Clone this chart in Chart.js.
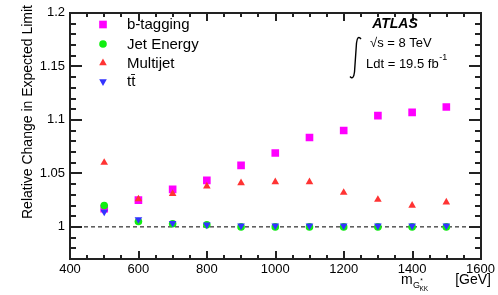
<!DOCTYPE html>
<html><head><meta charset="utf-8">
<script src="https://cdn.jsdelivr.net/npm/chart.js@4"></script>
<style>html,body{margin:0;padding:0;background:#fff}#wrap{width:498px;height:295px;position:relative}</style>
</head><body><div id="wrap"><canvas id="c" width="498" height="295"></canvas></div>
<script>
const masses = [500, 600, 700, 800, 900, 1000, 1100, 1200, 1300, 1400, 1500];
const bTagging = [1.017, 1.025, 1.035, 1.0435, 1.0575, 1.069, 1.0835, 1.090, 1.104, 1.107, 1.112];
const jetEnergy = [1.020, 1.005, 1.003, 1.002, 1.000, 1.000, 1.000, 1.000, 1.000, 1.000, 1.000];
const multijet = [1.060, 1.026, 1.031, 1.038, 1.041, 1.042, 1.042, 1.032, 1.0255, 1.020, 1.023];
const ttbar = [1.014, 1.007, 1.0035, 1.002, 1.001, 1.001, 1.001, 1.001, 1.001, 1.001, 1.001];
const xTicks = [400, 600, 800, 1000, 1200, 1400, 1600];
const yTicks = [1, 1.05, 1.1, 1.15, 1.2];
const seriesNames = ['b-tagging', 'Jet Energy', 'Multijet', 't\u0074\u0304'];
const refLine = [1, 1];
const xRange = [400, 1600];

const FONT = "'Liberation Sans', Arial, Helvetica, sans-serif";
const pts = arr => masses.map((m, i) => ({x: m, y: arr[i]}));

const styles = [
  {color: '#ff00ff', shape: 'rect', r: 5.4, rot: 0},
  {color: '#11ee11', shape: 'circle', r: 3.8, rot: 0},
  {color: '#ff3333', shape: 'triangle', r: 4.4, rot: 0},
  {color: '#3333ff', shape: 'triangle', r: 4.4, rot: 180}
];
const seriesData = [bTagging, jetEnergy, multijet, ttbar];

const datasets = seriesData.map((d, i) => ({
  type: 'scatter',
  label: seriesNames[i],
  data: pts(d),
  pointStyle: styles[i].shape,
  pointRadius: styles[i].r,
  pointRotation: styles[i].rot,
  pointBackgroundColor: styles[i].color,
  pointBorderWidth: 0,
  borderWidth: 0,
  order: 4 - i
}));
datasets.push({
  type: 'line',
  label: 'ref',
  data: xRange.map((x, i) => ({x: x, y: refLine[i]})),
  borderColor: '#000',
  borderWidth: 1,
  borderDash: [4, 3],
  pointRadius: 0,
  order: 10
});

function drawMarker(ctx, shape, x, y, r, rot, color) {
  ctx.save();
  ctx.fillStyle = color;
  ctx.beginPath();
  if (shape === 'rect') {
    const s = Math.SQRT1_2 * r;
    ctx.rect(x - s, y - s, 2 * s, 2 * s);
  } else if (shape === 'circle') {
    ctx.arc(x, y, r, 0, Math.PI * 2);
  } else {
    const sgn = rot ? -1 : 1;
    let a = 0;
    for (let k = 0; k < 3; k++) {
      const px = x + Math.sin(a) * r, py = y - sgn * Math.cos(a) * r;
      if (k === 0) ctx.moveTo(px, py); else ctx.lineTo(px, py);
      a += 2 * Math.PI / 3;
    }
    ctx.closePath();
  }
  ctx.fill();
  ctx.restore();
}

const decor = {
  id: 'decor',
  afterDraw(chart) {
    const ctx = chart.ctx, a = chart.chartArea;
    ctx.save();
    ctx.setLineDash([]);
    const L = Math.round(a.left), R = Math.round(a.right), T = Math.round(a.top), B = Math.round(a.bottom);
    ctx.fillStyle = '#222222';
    // frame
    ctx.fillRect(L - 1, T - 1, R - L + 2, 2);
    ctx.fillRect(L - 1, B - 1, R - L + 2, 2);
    ctx.fillRect(L - 1, T - 1, 2, B - T + 2);
    ctx.fillRect(R - 1, T - 1, 2, B - T + 2);
    // x ticks
    for (let k = 0; k <= 24; k++) {
      const px = Math.round(L + (R - L) * k / 24);
      const len = (k % 4 === 0) ? 8 : 4;
      ctx.fillRect(px - 1, B - len, 2, len);
      ctx.fillRect(px - 1, T, 2, len);
    }
    // y ticks
    for (let k = 0; k <= 23; k++) {
      const py = Math.round(B - (B - T) * k / 23);
      const len = ((k + 2) % 5 === 0) ? 12 : 6;
      ctx.fillRect(L, py - 1, len, 2);
      ctx.fillRect(R - len, py - 1, len, 2);
    }

    // legend
    ctx.fillStyle = '#000';
    ctx.textBaseline = 'middle';
    ctx.textAlign = 'left';
    ctx.font = '15px ' + FONT;
    const rowsY = [24.5, 44, 63, 81.5];
    seriesNames.forEach((n, i) => {
      drawMarker(ctx, styles[i].shape, 103, rowsY[i], styles[i].r, styles[i].rot, styles[i].color);
      ctx.fillStyle = '#000';
      ctx.fillText(n, 127, rowsY[i] + 0.5);
    });

    // ATLAS label
    ctx.font = 'italic bold 14px ' + FONT;
    ctx.textAlign = 'center';
    ctx.fillText('ATLAS', 395, 24);
    ctx.textAlign = 'left';
    ctx.font = '13px ' + FONT;
    ctx.fillText('\u221As = 8 TeV', 370, 43);
    ctx.fillText('Ldt = 19.5 fb', 366, 64);
    const w = ctx.measureText('Ldt = 19.5 fb').width;
    ctx.font = '9px ' + FONT;
    ctx.fillText('-1', 366 + w + 0.5, 58);
    // integral sign
    ctx.beginPath();
    ctx.lineWidth = 1.4;
    ctx.strokeStyle = '#000';
    ctx.moveTo(361, 39);
    ctx.quadraticCurveTo(357.5, 34.5, 356.5, 43);
    ctx.lineTo(354.5, 72);
    ctx.quadraticCurveTo(353.5, 80.5, 350, 76.5);
    ctx.stroke();

    // y title
    ctx.save();
    ctx.translate(32, 5);
    ctx.rotate(-Math.PI / 2);
    ctx.textAlign = 'right';
    ctx.textBaseline = 'alphabetic';
    ctx.font = '14px ' + FONT;
    ctx.fillStyle = '#000';
    ctx.fillText('Relative Change in Expected Limit', 0, 0);
    ctx.restore();

    // x title
    ctx.textBaseline = 'alphabetic';
    ctx.textAlign = 'right';
    ctx.font = '14px ' + FONT;
    ctx.fillText('[GeV]', 491, 284);
    ctx.textAlign = 'left';
    let x0 = 401;
    ctx.fillText('m', x0, 284);
    x0 += ctx.measureText('m').width + 0.3;
    ctx.font = '9px ' + FONT;
    ctx.fillText('G', x0, 287.5);
    const gw = ctx.measureText('G').width;
    ctx.font = '6.5px ' + FONT;
    ctx.fillText('*', x0 + gw + 0.3, 283);
    ctx.fillText('KK', x0 + gw - 0.5, 291);
    ctx.restore();
  }
};

new Chart(document.getElementById('c'), {
  data: {datasets: datasets},
  options: {
    responsive: false,
    animation: false,
    devicePixelRatio: 1,
    layout: {padding: {top: 5, right: 16, left: 0, bottom: 0}},
    plugins: {legend: {display: false}, tooltip: {enabled: false}},
    scales: {
      x: {
        type: 'linear', min: 400, max: 1600,
        afterBuildTicks: s => { s.ticks = xTicks.map(v => ({value: v})); },
        afterFit: s => { s.height = 36; },
        grid: {display: false, drawTicks: false},
        border: {display: false},
        ticks: {font: {family: FONT, size: 13}, color: '#000', padding: 3, maxRotation: 0, autoSkip: false,
          callback: v => String(v)}
      },
      y: {
        type: 'linear', min: 0.97, max: 1.2,
        afterBuildTicks: s => { s.ticks = yTicks.map(v => ({value: v})); },
        afterFit: s => { s.width = 70; },
        grid: {display: false, drawTicks: false},
        border: {display: false},
        ticks: {font: {family: FONT, size: 13}, color: '#000', padding: 5,
          callback: v => String(parseFloat(Number(v).toFixed(2)))}
      }
    }
  },
  plugins: [decor]
});
</script></body></html>
